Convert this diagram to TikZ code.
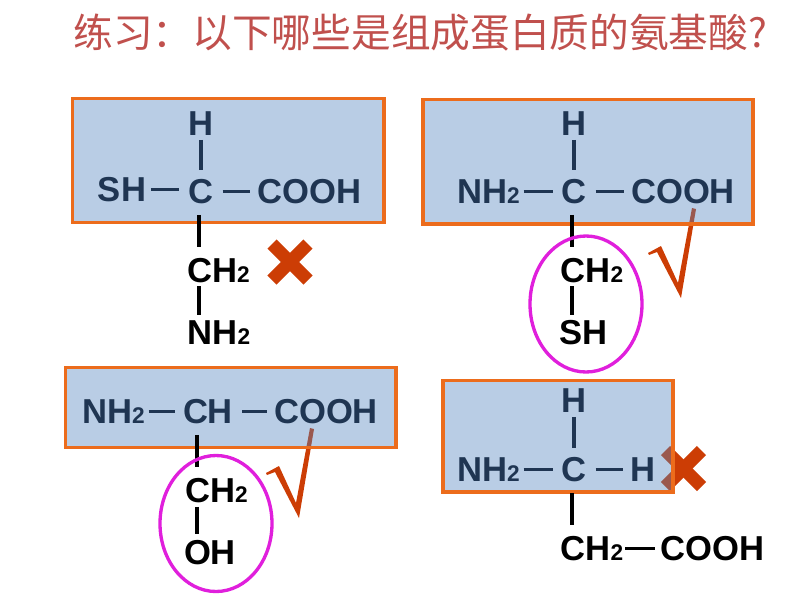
\documentclass[tikz,border=0pt]{standalone}
\usepackage{fontspec}
\setmainfont{Liberation Sans}
\newfontfamily\cjk{Noto Sans CJK SC}
\definecolor{navy}{HTML}{1F3552}
\definecolor{titlered}{HTML}{C0504D}
\definecolor{boxblue}{HTML}{4F81BD}
\definecolor{boxedge}{HTML}{EC6C1C}
\definecolor{markred}{HTML}{CC3D05}
\definecolor{ringpink}{HTML}{E01FDC}
\newcommand{\subtwo}{{\fontsize{12.9}{12.9}\selectfont 2}}
\tikzset{
  atom/.style = {font = \fontsize{19.7}{19.7}\selectfont\bfseries, inner sep = 0pt, text height = 14.1pt, text depth = 0pt},
  molbox/.style = {draw = boxedge, line width = 2pt, fill = boxblue, fill opacity = 0.4},
  bond/.style = {line width = 1.9pt},
  leftbond/.style = {bond, shorten < = 2pt, shorten > = 4.5pt},
  rightbond/.style = {bond, shorten < = 5pt, shorten > = 4pt},
  upbond/.style = {bond, shorten < = 2pt, shorten > = 5pt},
  stembond/.style = {bond, shorten < = 6pt, shorten > = 6pt},
  lowbond/.style = {bond, shorten < = 2pt, shorten > = 3pt},
  ringmark/.style = {draw = ringpink, line width = 1.9pt}
}

\begin{document}
\begin{tikzpicture}[x = 0.02cm, y = -0.02cm]
      \useasboundingbox (0, 0) rectangle (794, 596);
      \node (title) [anchor = west, text = titlered, font = \cjk\fontsize{22.6}{22.6}\selectfont, inner sep = 0pt] at (73, 33) {练习：以下哪些是组成蛋白质的氨基酸?};
      % marks go first, the boxes lie over them
      \foreach \tx/\ty in {290/262, 683.5/468.5}{
        \begin{scope}[shift = {(\tx, \ty)}]
          \draw [markred, line width = 7.4pt] (-18, -18) -- (18, 18);
          \draw [markred, line width = 7.4pt] (18, -18) -- (-18, 18);
        \end{scope}
      }
      \foreach \tx/\ty in {681/298, 299/518}{
        \begin{scope}[shift = {(\tx, \ty)}]
          \fill [markred] (0, 0) -- (-24, -46) -- (-32, -43) -- (-33, -45) -- (-20, -52) -- (-3, -15) -- (11, -90) -- (15, -89) -- cycle;
        \end{scope}
      }
      \draw [molbox] (72.5, 98.5) rectangle (384, 222.5);
      \draw [molbox] (423, 99.5) rectangle (753, 224);
      \draw [molbox] (65.5, 367.5) rectangle (396, 447.5);
      \draw [molbox] (443, 380.5) rectangle (673, 492);
      % top left
      \begin{scope}[text = navy]
        \node (h1) [atom] at (201, 123.5) {H};
        \node (c1) [atom] at (201, 191.5) {C};
        \node (sh1) [atom] at (122, 189.5) {SH};
        \node (cooh1) [atom] at (309.5, 191.5) {COOH};
      \end{scope}
      \node (ch1) [atom] at (218.5, 270) {CH\subtwo};
      \node (nh1) [atom] at (219, 332.5) {NH\subtwo};
      \coordinate (stem1) at (199, 0);
      \draw [upbond, navy] (h1) -- (c1);
      \draw [bond, navy, shorten < = 2.5pt, shorten > = 5pt] (sh1) -- (sh1 -| c1.west);
      \draw [rightbond, navy] (c1) -- (cooh1);
      \draw [stembond] (stem1 |- c1.south) -- (stem1 |- ch1.north);
      \draw [lowbond] (stem1 |- ch1.south) -- (stem1 |- nh1.north);
      % top right
      \begin{scope}[text = navy]
        \node (h2) [atom] at (574, 123.5) {H};
        \node (c2) [atom] at (574, 191.5) {C};
        \node (nh2) [atom] at (488.5, 191.5) {NH\subtwo};
        \node (cooh2) [atom] at (683, 191.5) {COOH};
      \end{scope}
      \node (ch2) [atom] at (592, 270) {CH\subtwo};
      \node (sh2) [atom] at (583.5, 332.5) {SH};
      \coordinate (stem2) at (572, 0);
      \draw [upbond, navy] (h2) -- (c2);
      \draw [leftbond, navy] (nh2) -- (c2);
      \draw [rightbond, navy] (c2) -- (cooh2);
      \draw [stembond] (stem2 |- c2.south) -- (stem2 |- ch2.north);
      \draw [lowbond] (stem2 |- ch2.south) -- (stem2 |- sh2.north);
      \draw [ringmark] (586, 304) ellipse [x radius = 56, y radius = 68];
      % bottom left
      \begin{scope}[text = navy]
        \node (nh3) [atom] at (113.5, 411.5) {NH\subtwo};
        \node (ch3) [atom] at (208, 411.5) {CH};
        \node (cooh3) [atom] at (326, 411.5) {COOH};
      \end{scope}
      \node (chb3) [atom] at (216.5, 490.5) {CH\subtwo};
      \node (oh3) [atom] at (210, 552) {OH};
      \coordinate (stem3) at (197, 0);
      \draw [leftbond, navy] (nh3) -- (ch3);
      \draw [rightbond, navy] (ch3) -- (cooh3);
      \draw [stembond] (stem3 |- ch3.south) -- (stem3 |- chb3.north);
      \draw [lowbond] (stem3 |- chb3.south) -- (stem3 |- oh3.north);
      \draw [ringmark] (216, 523.5) ellipse [x radius = 56, y radius = 68];
      % bottom right
      \begin{scope}[text = navy]
        \node (h4) [atom] at (574, 400.5) {H};
        \node (c4) [atom] at (574, 469.5) {C};
        \node (nh4) [atom] at (488.5, 469.5) {NH\subtwo};
        \node (hr4) [atom] at (642.5, 469.5) {H};
      \end{scope}
      \node (ch4) [atom] at (592, 548.5) {CH\subtwo};
      \node (cooh4) [atom] at (712.5, 548.5) {COOH};
      \coordinate (stem4) at (572, 0);
      \draw [upbond, navy] (h4) -- (c4);
      \draw [leftbond, navy] (nh4) -- (c4);
      \draw [rightbond, navy] (c4) -- (hr4);
      \draw [stembond] (stem4 |- c4.south) -- (stem4 |- ch4.north);
      \draw [bond, shorten < = 1pt, shorten > = 3pt] (ch4) -- (cooh4);
    \end{tikzpicture}
\end{document}
